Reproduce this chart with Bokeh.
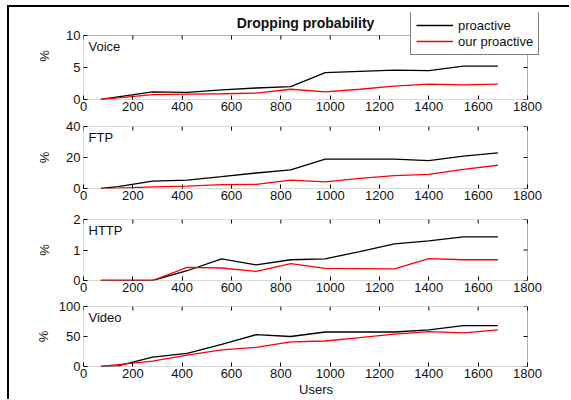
import math
from bokeh.plotting import figure
from bokeh.models import Range1d, FixedTicker, Label, Legend, LegendItem, BoxAnnotation
from bokeh.layouts import column
from bokeh.embed import file_html
from bokeh.resources import INLINE

users = [70, 140, 280, 420, 560, 700, 840, 980, 1120, 1260, 1400, 1540, 1680]
voice_proactive = [0, 0.4, 1.2, 1.1, 1.5, 1.8, 2.0, 4.2, 4.4, 4.6, 4.5, 5.2, 5.2]
voice_ours = [0, 0.25, 0.75, 0.85, 0.9, 1.0, 1.6, 1.2, 1.6, 2.1, 2.4, 2.3, 2.4]
ftp_proactive = [0, 1.2, 4.8, 5.4, 7.6, 10, 12, 18.9, 18.9, 18.9, 18, 20.9, 23]
ftp_ours = [0, 0.3, 1.0, 1.5, 2.5, 2.6, 5.4, 4.3, 6.5, 8.3, 9.1, 12.3, 15]
http_proactive = [0, 0, 0, 0.32, 0.71, 0.51, 0.68, 0.71, 0.95, 1.2, 1.3, 1.43, 1.43]
http_ours = [0, 0, 0, 0.43, 0.41, 0.3, 0.55, 0.4, 0.39, 0.38, 0.72, 0.68, 0.68]
video_proactive = [0, 1, 15.5, 22, 37, 53, 50, 57.5, 57.5, 57.5, 61, 68, 68]
video_ours = [0, 3, 8.8, 19, 27.6, 32, 41, 42.5, 48, 54, 58, 56, 61]

x_ticks = [0, 200, 400, 600, 800, 1000, 1200, 1400, 1600, 1800]
panel_names = ["Voice", "FTP", "HTTP", "Video"]
panel_pro = [voice_proactive, ftp_proactive, http_proactive, video_proactive]
panel_ours = [voice_ours, ftp_ours, http_ours, video_ours]
panel_yticks = [[0, 5, 10], [0, 20, 40], [0, 1, 2], [0, 50, 100]]
series_names = ["proactive", "our proactive"]
title_text = "Dropping probability"
x_label = "Users"
y_label = "%"

FONT = "Liberation Sans"
FS = "13px"
TXT = "#111111"

W = 560            # figure width
LEFT = 74          # border left -> frame left
BOX_W = 444        # axes box width in px
EXTRA_RIGHT = 21   # frame room right of the box (legend overhangs the box)
EXTRA_TOP = 23     # frame room above the first box (title + legend)
# per panel: fig height, border top, box height, border bottom, ylabel standoff
geo = [
    (106, 28, 64, 14, 11),
    (92, 13, 62, 17, 11),
    (89, 14, 62, 13, 18),
    (105, 12, 61, 32, 5),
]

figs = []
for i in range(4):
    name, pro, ours, yt = panel_names[i], panel_pro[i], panel_ours[i], panel_yticks[i]
    h, bt, bh, bb, ystand = geo[i]
    x0, x1 = x_ticks[0], x_ticks[-1]
    y0, y1 = yt[0], yt[-1]
    xr = Range1d(x0, x1 + (x1 - x0) * EXTRA_RIGHT / BOX_W)
    if i == 0:
        yr = Range1d(y0, y1 + (y1 - y0) * EXTRA_TOP / bh)
        mbt = bt - EXTRA_TOP
    else:
        yr = Range1d(y0, y1)
        mbt = bt
    mbr = W - LEFT - BOX_W - EXTRA_RIGHT
    p = figure(width=W, height=h, output_backend="svg", toolbar_location=None,
               x_range=xr, y_range=yr, title=None,
               min_border_left=LEFT, min_border_right=mbr,
               min_border_top=mbt, min_border_bottom=bb,
               background_fill_color="white", border_fill_color="white")
    p.grid.visible = False
    p.outline_line_color = None
    for ax in (p.xaxis[0], p.yaxis[0]):
        ax.major_tick_in = 4
        ax.major_tick_out = 0
        ax.minor_tick_line_color = None
        ax.axis_line_color = None
        ax.major_tick_line_color = "black"
        ax.major_label_text_font = FONT
        ax.major_label_text_font_size = FS
        ax.major_label_text_color = TXT
        ax.axis_label_text_font = FONT
        ax.axis_label_text_font_size = FS
        ax.axis_label_text_font_style = "normal"
        ax.axis_label_text_color = TXT
    p.xaxis.ticker = FixedTicker(ticks=x_ticks)
    p.xaxis.major_label_standoff = 2
    p.yaxis.ticker = FixedTicker(ticks=yt)
    p.yaxis.major_label_standoff = 3
    p.yaxis.axis_label = y_label
    p.yaxis.axis_label_standoff = ystand
    if i == 3:
        p.xaxis.axis_label = x_label
        p.xaxis.axis_label_standoff = 1

    # the axes box
    p.add_layout(BoxAnnotation(left=x0, right=x1, bottom=y0, top=y1,
                               fill_alpha=0, line_color="black", line_width=1))
    # mirrored (box) ticks on top and right
    p.ray(x=x_ticks, y=[y1] * len(x_ticks), length=4, length_units="screen",
          angle=-math.pi / 2, line_color="black", line_width=1)
    p.ray(x=[x1] * len(yt), y=yt, length=4, length_units="screen",
          angle=math.pi, line_color="black", line_width=1)

    r1 = p.line(users, pro, line_color="black", line_width=1.3)
    r2 = p.line(users, ours, line_color="red", line_width=1.3)

    p.add_layout(Label(x=x0, y=y1, x_offset=5, y_offset=-3, text=name,
                       text_baseline="top", text_align="left",
                       text_font=FONT, text_font_size=FS, text_color=TXT))

    if i == 0:
        p.add_layout(Label(x=(x0 + x1) / 2, y=y1, y_offset=13, text=title_text,
                           text_baseline="middle", text_align="center",
                           text_font=FONT, text_font_size="14px", text_font_style="bold",
                           text_color=TXT))
        leg = Legend(items=[LegendItem(label=series_names[0], renderers=[r1]),
                            LegendItem(label=series_names[1], renderers=[r2])],
                     location=(327, 44),
                     padding=5, spacing=0, margin=0,
                     label_height=16, glyph_height=16, glyph_width=37, label_standoff=5,
                     label_text_font=FONT, label_text_font_size=FS, label_text_color=TXT,
                     border_line_color="black", border_line_width=1,
                     background_fill_color="white", background_fill_alpha=1.0)
        p.add_layout(leg, "center")
    figs.append(p)

layout = column(*figs, spacing=0,
                styles={"margin-left": "7px", "margin-top": "5px",
                        "border-top": "2px solid black", "border-left": "2px solid black"})

open("out.html", "w").write(file_html(layout, INLINE))
